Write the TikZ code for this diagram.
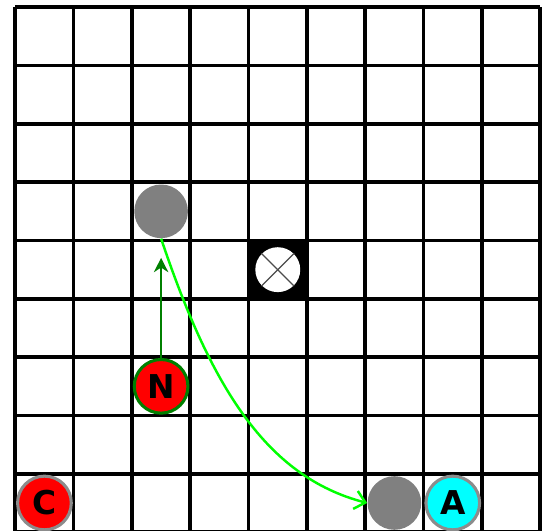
\documentclass[tikz,border=0pt]{standalone}
\usepackage{fontspec}
\setsansfont{DejaVu Sans}
\usepackage{tikz}
\usetikzlibrary{arrows.meta}
\usepackage{xcolor}
\definecolor{movegreen}{RGB}{0,128,0}
\definecolor{arcgreen}{RGB}{0,255,0}
\definecolor{stonegray}{RGB}{128,128,128}
\definecolor{ringgray}{RGB}{140,140,140}
\definecolor{tokcyan}{RGB}{0,255,255}

\begin{document}
\begin{tikzpicture}[
  token/.style={circle,minimum size=0.92cm,inner sep=0pt,line width=1.5pt,
    font=\sffamily\bfseries\fontsize{16}{16}\selectfont},
  ghost/.style={circle,minimum size=0.92cm,inner sep=0pt,fill=stonegray},
  movearrow/.style={movegreen,line width=1.2pt,-{Stealth[length=7pt,width=7pt]},shorten >=0.33cm},
  jumparrow/.style={arcgreen,line width=1.2pt,-{Straight Barb[length=5pt,width=9pt]}}]
\useasboundingbox (-0.262,0.02) rectangle (9.03,9.123);
%board
\draw [black,line width=1.8pt] (0,0) grid (9,9);
%blocked square
\fill [black] (4,4) rectangle (5,5);
\node [circle,fill=white,minimum size=0.77cm,inner sep=0pt] (hole) at (4.5,4.5) {};
\draw [black!70,line width=0.6pt] (4.22,4.22)--(4.78,4.78);
\draw [black!70,line width=0.6pt] (4.22,4.78)--(4.78,4.22);
%pieces
\node [ghost] (g1) at (2.5,5.5) {};
\node [ghost] (g2) at (6.5,0.5) {};
\node [token,fill=red,draw=movegreen] (n) at (2.5,2.5) {N};
\node [token,fill=red,draw=ringgray] (c) at (0.5,0.5) {C};
\node [token,fill=tokcyan,draw=ringgray] (a) at (7.5,0.5) {A};
%moves
\draw [movearrow] (n)--(g1);
\draw [jumparrow] (g1.south) .. controls (3.35,2.5) and (4.3,0.95) .. (g2.west);
\end{tikzpicture}
\end{document}
